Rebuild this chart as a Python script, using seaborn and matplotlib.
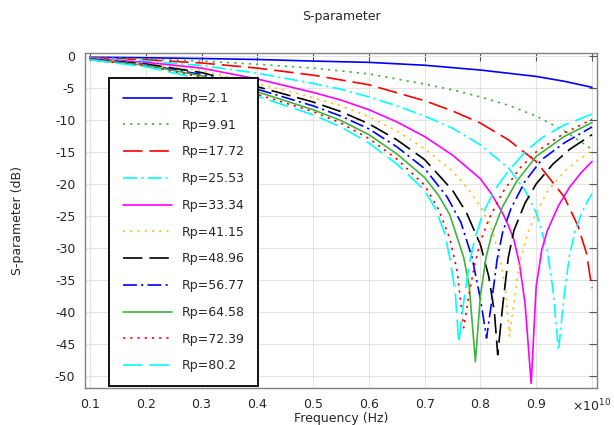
import matplotlib
matplotlib.use('Agg')
import pandas as pd
import matplotlib.pyplot as plt
import seaborn as sns

# Frequency in units of 1e10 Hz, S-parameter in dB
f_rp2_1 = [0.1, 0.2, 0.3, 0.4, 0.5, 0.6, 0.7, 0.8, 0.9, 0.95, 1.0]
db_rp2_1 = [-0.2, -0.28, -0.4, -0.55, -0.8, -1.0, -1.45, -2.2, -3.2, -3.95, -4.9]

f_rp9_91 = [0.1, 0.2, 0.3, 0.4, 0.5, 0.6, 0.7, 0.75, 0.8, 0.85, 0.9, 0.95, 1.0]
db_rp9_91 = [-0.25, -0.45, -0.8, -1.3, -1.9, -2.8, -4.4, -5.3, -6.4, -7.7, -9.4, -11.7, -14.6]

f_rp17_72 = [0.1, 0.2, 0.3, 0.4, 0.5, 0.6, 0.7, 0.75, 0.8, 0.85, 0.9, 0.95, 0.975, 0.99, 1.0]
db_rp17_72 = [-0.3, -0.6, -1.1, -1.9, -3.0, -4.5, -7.0, -8.6, -10.5, -13.1, -16.5, -22.0, -26.6, -30.8, -36.3]

f_rp25_53 = [0.1, 0.2, 0.3, 0.4, 0.5, 0.55, 0.6, 0.65, 0.7, 0.75, 0.8, 0.85, 0.88, 0.9, 0.92, 0.93, 0.94,
             0.95, 0.96, 0.97, 0.98, 0.99, 1.0]
db_rp25_53 = [-0.35, -0.8, -1.5, -2.7, -4.3, -5.2, -6.4, -7.8, -9.4, -11.3, -13.9, -17.5, -21.0, -24.5, -30.5, -36.5, -46.0,
              -37.5, -31.0, -27.3, -24.9, -23.0, -21.5]

f_rp33_34 = [0.1, 0.2, 0.3, 0.4, 0.5, 0.55, 0.6, 0.65, 0.7, 0.75, 0.8, 0.82, 0.84, 0.85, 0.86, 0.87, 0.88, 0.891,
             0.9, 0.91, 0.92, 0.94, 0.96, 0.98, 1.0]
db_rp33_34 = [-0.4, -1.0, -1.9, -3.6, -5.7, -6.9, -8.4, -10.3, -12.6, -15.5, -19.2, -21.6, -24.6, -26.5, -28.7, -32.5, -38.7, -51.2,
              -36.0, -30.3, -27.3, -23.4, -20.5, -18.3, -16.5]

f_rp41_15 = [0.1, 0.2, 0.3, 0.4, 0.5, 0.55, 0.6, 0.65, 0.7, 0.75, 0.78, 0.8, 0.82, 0.835, 0.845, 0.852,
             0.86, 0.87, 0.885, 0.9, 0.92, 0.95, 0.975, 1.0]
db_rp41_15 = [-0.45, -1.15, -2.3, -4.3, -6.5, -7.8, -9.5, -11.7, -14.5, -18.0, -21.0, -23.5, -27.0, -31.5, -36.5, -43.8,
              -38.5, -32.5, -27.6, -24.6, -21.2, -18.1, -16.3, -14.8]

f_rp48_96 = [0.1, 0.2, 0.3, 0.4, 0.5, 0.55, 0.6, 0.65, 0.7, 0.75, 0.775, 0.8, 0.815, 0.825, 0.831,
             0.84, 0.85, 0.86, 0.88, 0.9, 0.93, 0.96, 1.0]
db_rp48_96 = [-0.5, -1.25, -2.6, -4.8, -7.2, -8.7, -10.6, -13.1, -16.2, -21.0, -24.5, -29.5, -34.5, -40.0, -46.7,
              -39.0, -31.5, -27.3, -23.0, -20.0, -16.9, -14.6, -12.3]

f_rp56_77 = [0.1, 0.2, 0.3, 0.4, 0.5, 0.55, 0.6, 0.65, 0.7, 0.74, 0.765, 0.785, 0.8, 0.811,
             0.82, 0.83, 0.84, 0.855, 0.88, 0.91, 0.95, 1.0]
db_rp56_77 = [-0.55, -1.35, -2.9, -5.2, -7.8, -9.4, -11.4, -14.2, -17.6, -22.0, -26.0, -31.5, -38.0, -44.1,
              -38.5, -31.8, -27.5, -23.8, -19.6, -16.2, -13.6, -11.1]

f_rp64_58 = [0.1, 0.2, 0.3, 0.4, 0.5, 0.55, 0.6, 0.65, 0.7, 0.725, 0.745, 0.77, 0.78, 0.791,
             0.8, 0.81, 0.82, 0.84, 0.865, 0.9, 0.95, 1.0]
db_rp64_58 = [-0.55, -1.45, -3.1, -5.6, -8.4, -10.1, -12.3, -15.3, -19.0, -21.8, -24.8, -31.5, -36.0, -47.8,
              -37.5, -31.5, -28.0, -23.5, -19.6, -15.7, -12.6, -10.4]

f_rp72_39 = [0.1, 0.2, 0.3, 0.4, 0.5, 0.55, 0.6, 0.65, 0.7, 0.725, 0.745, 0.758, 0.77,
             0.78, 0.79, 0.8, 0.815, 0.84, 0.87, 0.9, 0.95, 1.0]
db_rp72_39 = [-0.6, -1.55, -3.3, -6.0, -8.7, -10.5, -12.9, -16.1, -20.2, -24.0, -28.5, -33.5, -42.5,
              -37.0, -32.5, -29.0, -25.5, -21.3, -17.6, -15.0, -12.1, -9.9]

f_rp80_2 = [0.1, 0.2, 0.3, 0.4, 0.5, 0.55, 0.6, 0.65, 0.7, 0.72, 0.735, 0.745, 0.755, 0.761,
            0.77, 0.78, 0.79, 0.805, 0.825, 0.85, 0.88, 0.91, 0.95, 1.0]
db_rp80_2 = [-0.6, -1.7, -3.6, -6.3, -9.2, -11.1, -13.6, -16.9, -21.0, -24.0, -27.5, -31.5, -37.0, -44.9,
             -38.5, -32.5, -28.5, -24.5, -21.0, -18.0, -15.0, -12.8, -10.8, -9.1]

labels = ['Rp=2.1', 'Rp=9.91', 'Rp=17.72', 'Rp=25.53', 'Rp=33.34', 'Rp=41.15',
          'Rp=48.96', 'Rp=56.77', 'Rp=64.58', 'Rp=72.39', 'Rp=80.2']
freqs = [f_rp2_1, f_rp9_91, f_rp17_72, f_rp25_53, f_rp33_34, f_rp41_15,
         f_rp48_96, f_rp56_77, f_rp64_58, f_rp72_39, f_rp80_2]
dbs = [db_rp2_1, db_rp9_91, db_rp17_72, db_rp25_53, db_rp33_34, db_rp41_15,
       db_rp48_96, db_rp56_77, db_rp64_58, db_rp72_39, db_rp80_2]

xtick_vals = [0.1, 0.2, 0.3, 0.4, 0.5, 0.6, 0.7, 0.8, 0.9, 1.0]
xtick_labels = ['0.1', '0.2', '0.3', '0.4', '0.5', '0.6', '0.7', '0.8', '0.9', r'×10$^{10}$']
ytick_vals = list(range(-50, 1, 5))

# colour / dash cycle like the original
colors = ['#0000ff', '#3fb33f', '#ff0000', '#00ffff', '#ff00ff', '#ffbf1f',
          '#000000', '#0000ff', '#3fb33f', '#ff0000', '#00ffff']
solid = '-'
dotted = (0, (1.6, 3.6))
dashed = (0, (14, 5))
dashdot = (0, (10, 3, 1.6, 3))
styles = [solid, dotted, dashed, dashdot] * 3

sns.set_theme(style='white')
plt.rcParams['font.family'] = ['DejaVu Sans']
plt.rcParams['axes.unicode_minus'] = False
plt.rcParams['lines.scale_dashes'] = False

fig = plt.figure(figsize=(6.14, 4.25), dpi=100)
ax = fig.add_axes([0.1384, 0.0871, 0.8339, 0.788])

for lab, f, db, col, ls in zip(labels, freqs, dbs, colors, styles):
    df = pd.DataFrame({'f': f, 'dB': db})
    sns.lineplot(data=df, x='f', y='dB', color=col, linestyle=ls, lw=1.2,
                 label=lab, ax=ax, estimator=None)

ax.set_xlim(0.091, 1.009)
ax.set_ylim(-51.9, 0.45)
ax.set_xticks(xtick_vals)
ax.set_xticklabels(xtick_labels)
ax.set_yticks(ytick_vals)
ax.grid(True, color='#e4e4e4', lw=0.8)
ax.set_axisbelow(True)
ax.tick_params(direction='in', length=6, width=0.8, top=True, right=True,
               labelsize=9, pad=7, color='#555555')
for sp in ax.spines.values():
    sp.set_color('#808080')
    sp.set_linewidth(1.0)

ax.set_title('S-parameter', fontsize=9, pad=24)
ax.set_xlabel('Frequency (Hz)', fontsize=9, labelpad=-2)
ax.set_ylabel('S-parameter (dB)', fontsize=9, labelpad=22)

leg = ax.legend(loc='upper left', bbox_to_anchor=(0.047, 0.925), fontsize=9,
                handlelength=3.9, handletextpad=0.8, labelspacing=1.1,
                borderpad=1.1, borderaxespad=0, frameon=True, fancybox=False,
                framealpha=1, edgecolor='black')
leg.get_frame().set_linewidth(1.3)

fig.savefig('out.png', dpi=100)
